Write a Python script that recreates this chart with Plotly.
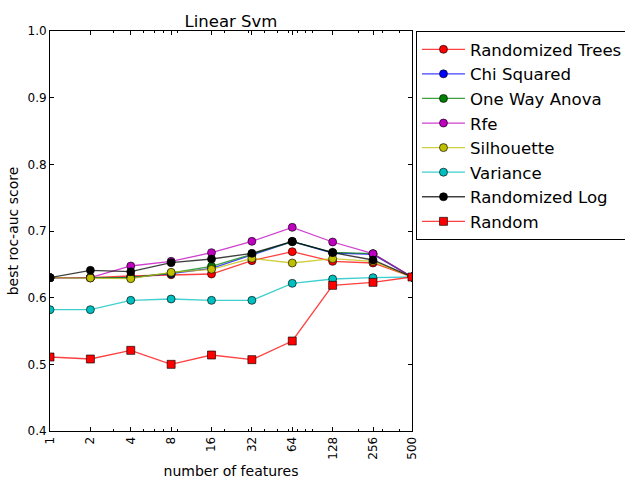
import math
import plotly.graph_objects as go

n_features = [1, 2, 4, 8, 16, 32, 64, 128, 256, 500]
tick_labels = ["1", "2", "4", "8", "16", "32", "64", "128", "256", "500"]

randomized_trees = [0.630, 0.630, 0.6325, 0.6345, 0.6355, 0.6555, 0.669, 0.6545, 0.652, 0.631]
chi_squared = [0.630, 0.630, 0.630, 0.636, 0.644, 0.664, 0.684, 0.667, 0.665, 0.631]
one_way_anova = [0.630, 0.630, 0.630, 0.637, 0.647, 0.665, 0.684, 0.668, 0.666, 0.631]
rfe = [0.630, 0.630, 0.6475, 0.6545, 0.6675, 0.6845, 0.7055, 0.6835, 0.666, 0.631]
silhouette = [0.630, 0.6295, 0.6285, 0.638, 0.6425, 0.659, 0.652, 0.6585, 0.6545, 0.631]
variance = [0.582, 0.582, 0.596, 0.598, 0.596, 0.596, 0.6215, 0.628, 0.630, 0.631]
randomized_log = [0.630, 0.641, 0.639, 0.6525, 0.658, 0.6665, 0.6845, 0.6675, 0.6565, 0.631]
random_sel = [0.511, 0.508, 0.521, 0.500, 0.514, 0.507, 0.535, 0.6185, 0.623, 0.631]

series = [
    ("Randomized Trees", randomized_trees, (255, 0, 0), "circle"),
    ("Chi Squared", chi_squared, (0, 0, 255), "circle"),
    ("One Way Anova", one_way_anova, (0, 128, 0), "circle"),
    ("Rfe", rfe, (191, 0, 191), "circle"),
    ("Silhouette", silhouette, (191, 191, 0), "circle"),
    ("Variance", variance, (0, 191, 191), "circle"),
    ("Randomized Log", randomized_log, (0, 0, 0), "circle"),
    ("Random", random_sel, (255, 0, 0), "square"),
]

minor_ticks = [3, 5, 6, 7, 9, 20, 30, 40, 50, 60, 70, 80, 90, 200, 300, 400]

fig = go.Figure()
for name, vals, (r, g, b), sym in series:
    fig.add_trace(go.Scatter(
        x=n_features, y=vals, name=name, mode="lines+markers",
        line=dict(color=f"rgba({r},{g},{b},0.75)", width=1.3),
        marker=dict(color=f"rgb({r},{g},{b})", size=8, symbol=sym,
                    line=dict(color="rgba(0,0,0,0.8)", width=0.8)),
    ))

font_family = "DejaVu Sans"
fig.update_layout(
    width=625, height=480,
    margin=dict(l=50, r=213, t=31, b=49, autoexpand=False),
    paper_bgcolor="white", plot_bgcolor="white",
    font=dict(family=font_family, color="black", size=12),
    title=dict(text="Linear Svm", x=0.5, xref="paper", xanchor="center",
               y=1, yref="paper", yanchor="bottom", pad=dict(b=4),
               font=dict(size=16.5, family=font_family, color="black")),
    showlegend=True,
    legend=dict(x=1.011, y=1, xanchor="left", yanchor="top",
                xref="paper", yref="paper",
                bgcolor="white", bordercolor="black", borderwidth=1,
                font=dict(size=16.6, family=font_family, color="black"),
                itemwidth=43),
    xaxis=dict(
        type="log", range=[0, math.log10(500)],
        tickmode="array", tickvals=n_features, ticktext=tick_labels,
        tickangle=-90, ticks="inside", ticklen=4, tickcolor="black",
        showline=True, linecolor="black", linewidth=1, mirror="ticks",
        showgrid=False, zeroline=False,
        tickfont=dict(size=12),
        minor=dict(tickmode="array", tickvals=minor_ticks, ticks="inside",
                   ticklen=2, tickcolor="black", showgrid=False),
        title=dict(text="number of features", font=dict(size=14), standoff=7),
    ),
    yaxis=dict(
        range=[0.4, 1.0], tickmode="array",
        tickvals=[0.4, 0.5, 0.6, 0.7, 0.8, 0.9, 1.0],
        ticktext=["0.4", "0.5", "0.6", "0.7", "0.8", "0.9", "1.0"],
        ticks="inside", ticklen=4, tickcolor="black",
        showline=True, linecolor="black", linewidth=1, mirror="ticks",
        showgrid=False, zeroline=False,
        tickfont=dict(size=12),
        title=dict(text="best roc-auc score", font=dict(size=14), standoff=5),
    ),
)

fig.write_html("out.html")
